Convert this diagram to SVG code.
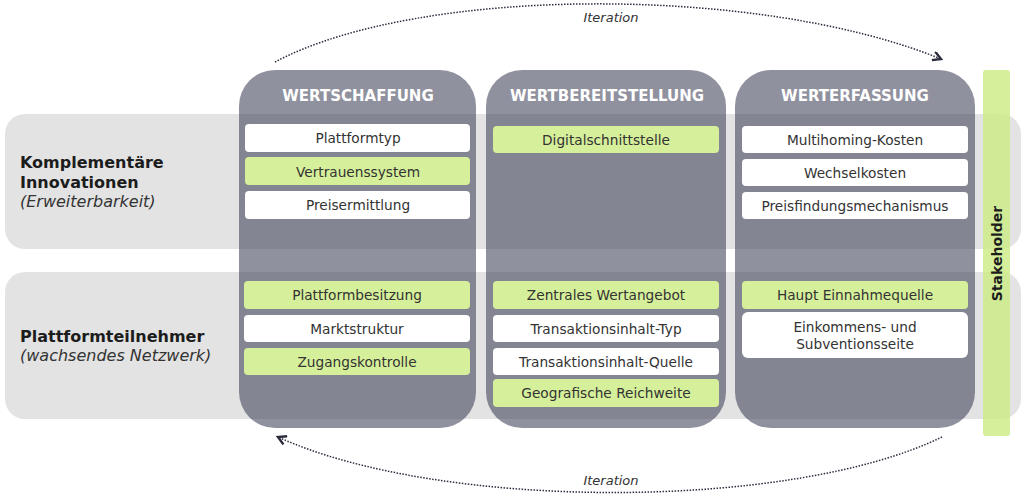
<svg xmlns="http://www.w3.org/2000/svg" width="1024" height="498" viewBox="0 0 1024 498">
<defs>
<marker id="arrow" markerWidth="12" markerHeight="12" refX="9" refY="5" orient="auto" markerUnits="userSpaceOnUse"><path d="M1 0.5 L9 5 L1 9.5" fill="none" stroke="#2a2c3c" stroke-width="2.4"/></marker>
</defs>
<style>
text{font-family:"DejaVu Sans",Verdana,sans-serif;fill:#333}
.band{fill:#e3e3e3}
.col{fill:#3c3d55;fill-opacity:.57}
.h{font-size:15px;font-weight:700;fill:#fff;text-anchor:middle}
.w{fill:#fff}.g{fill:#d6ef9a}
.t{font-size:13.7px;text-anchor:middle}
.b{font-size:16px;font-weight:700;fill:#1c1c1c}
.i{font-size:16px;font-style:italic}
.it{font-size:13px;font-style:italic;text-anchor:middle}
.c{fill:none;stroke:#2a2c3c;stroke-width:1.5;stroke-dasharray:1.5 1.5}
</style>
<rect width="1024" height="498" fill="#fff"/>
<g id="band-komplementaer"><rect class="band" x="5" y="114" width="1016" height="135" rx="20"/>
<text class="b" x="20" y="168">Komplementäre</text><text class="b" x="20" y="188">Innovationen</text><text class="i" x="20" y="207">(Erweiterbarkeit)</text></g>
<g id="band-teilnehmer"><rect class="band" x="5" y="272" width="1016" height="147" rx="20"/>
<text class="b" x="20" y="342">Plattformteilnehmer</text><text class="i" x="20" y="361">(wachsendes Netzwerk)</text></g>
<g id="stakeholder"><rect x="983" y="70" width="27" height="366" rx="3" fill="#cdec85" fill-opacity=".82"/>
<text transform="translate(1001.5 253.5) rotate(-90)" text-anchor="middle" style="font-size:14px;font-weight:700;fill:#1c1c1c">Stakeholder</text></g>
<g id="col-wertschaffung"><rect class="col" x="239" y="70" width="237" height="358" rx="36"/><text class="h" x="358" y="101">WERTSCHAFFUNG</text>
<rect class="w" x="245" y="124" width="225" height="28" rx="4"/><text class="t" x="358" y="143">Plattformtyp</text>
<rect class="g" x="245" y="157" width="225" height="28" rx="4"/><text class="t" x="358" y="177">Vertrauenssystem</text>
<rect class="w" x="245" y="191" width="225" height="28" rx="4"/><text class="t" x="358" y="210">Preisermittlung</text>
<rect class="g" x="244" y="281" width="226" height="28" rx="4"/><text class="t" x="357" y="300">Plattformbesitzung</text>
<rect class="w" x="244" y="315" width="226" height="27" rx="4"/><text class="t" x="357" y="334">Marktstruktur</text>
<rect class="g" x="244" y="348" width="226" height="27" rx="4"/><text class="t" x="357" y="367">Zugangskontrolle</text></g>
<g id="col-wertbereitstellung"><rect class="col" x="486" y="70" width="240" height="358" rx="36"/><text class="h" x="607" y="101">WERTBEREITSTELLUNG</text>
<rect class="g" x="493" y="126" width="226" height="27" rx="4"/><text class="t" x="606" y="145">Digitalschnittstelle</text>
<rect class="g" x="493" y="281" width="226" height="28" rx="4"/><text class="t" x="606" y="300">Zentrales Wertangebot</text>
<rect class="w" x="493" y="315" width="226" height="27" rx="4"/><text class="t" x="606" y="334">Transaktionsinhalt-Typ</text>
<rect class="w" x="493" y="348" width="226" height="27" rx="4"/><text class="t" x="606" y="367">Transaktionsinhalt-Quelle</text>
<rect class="g" x="493" y="379" width="226" height="28" rx="4"/><text class="t" x="606" y="398">Geografische Reichweite</text></g>
<g id="col-werterfassung"><rect class="col" x="735" y="70" width="240" height="358" rx="36"/><text class="h" x="855" y="101">WERTERFASSUNG</text>
<rect class="w" x="742" y="126" width="226" height="27" rx="4"/><text class="t" x="855" y="145">Multihoming-Kosten</text>
<rect class="w" x="742" y="159" width="226" height="27" rx="4"/><text class="t" x="855" y="178">Wechselkosten</text>
<rect class="w" x="742" y="192" width="226" height="27" rx="4"/><text class="t" x="855" y="211">Preisfindungsmechanismus</text>
<rect class="g" x="742" y="281" width="226" height="28" rx="4"/><text class="t" x="855" y="300">Haupt Einnahmequelle</text>
<rect class="w" x="742" y="312" width="226" height="46" rx="6"/><text class="t" x="855" y="332">Einkommens- und</text><text class="t" x="855" y="349">Subventionsseite</text></g>
<g id="connectors">
<path class="c" marker-end="url(#arrow)" d="M275 62 C420 -15 760 -15 941 59"/>
<path class="c" marker-end="url(#arrow)" d="M942 437 C790 511 440 511 278 437"/>
</g>
<text class="it" x="611" y="22">Iteration</text>
<text class="it" x="611" y="485">Iteration</text>
</svg>
